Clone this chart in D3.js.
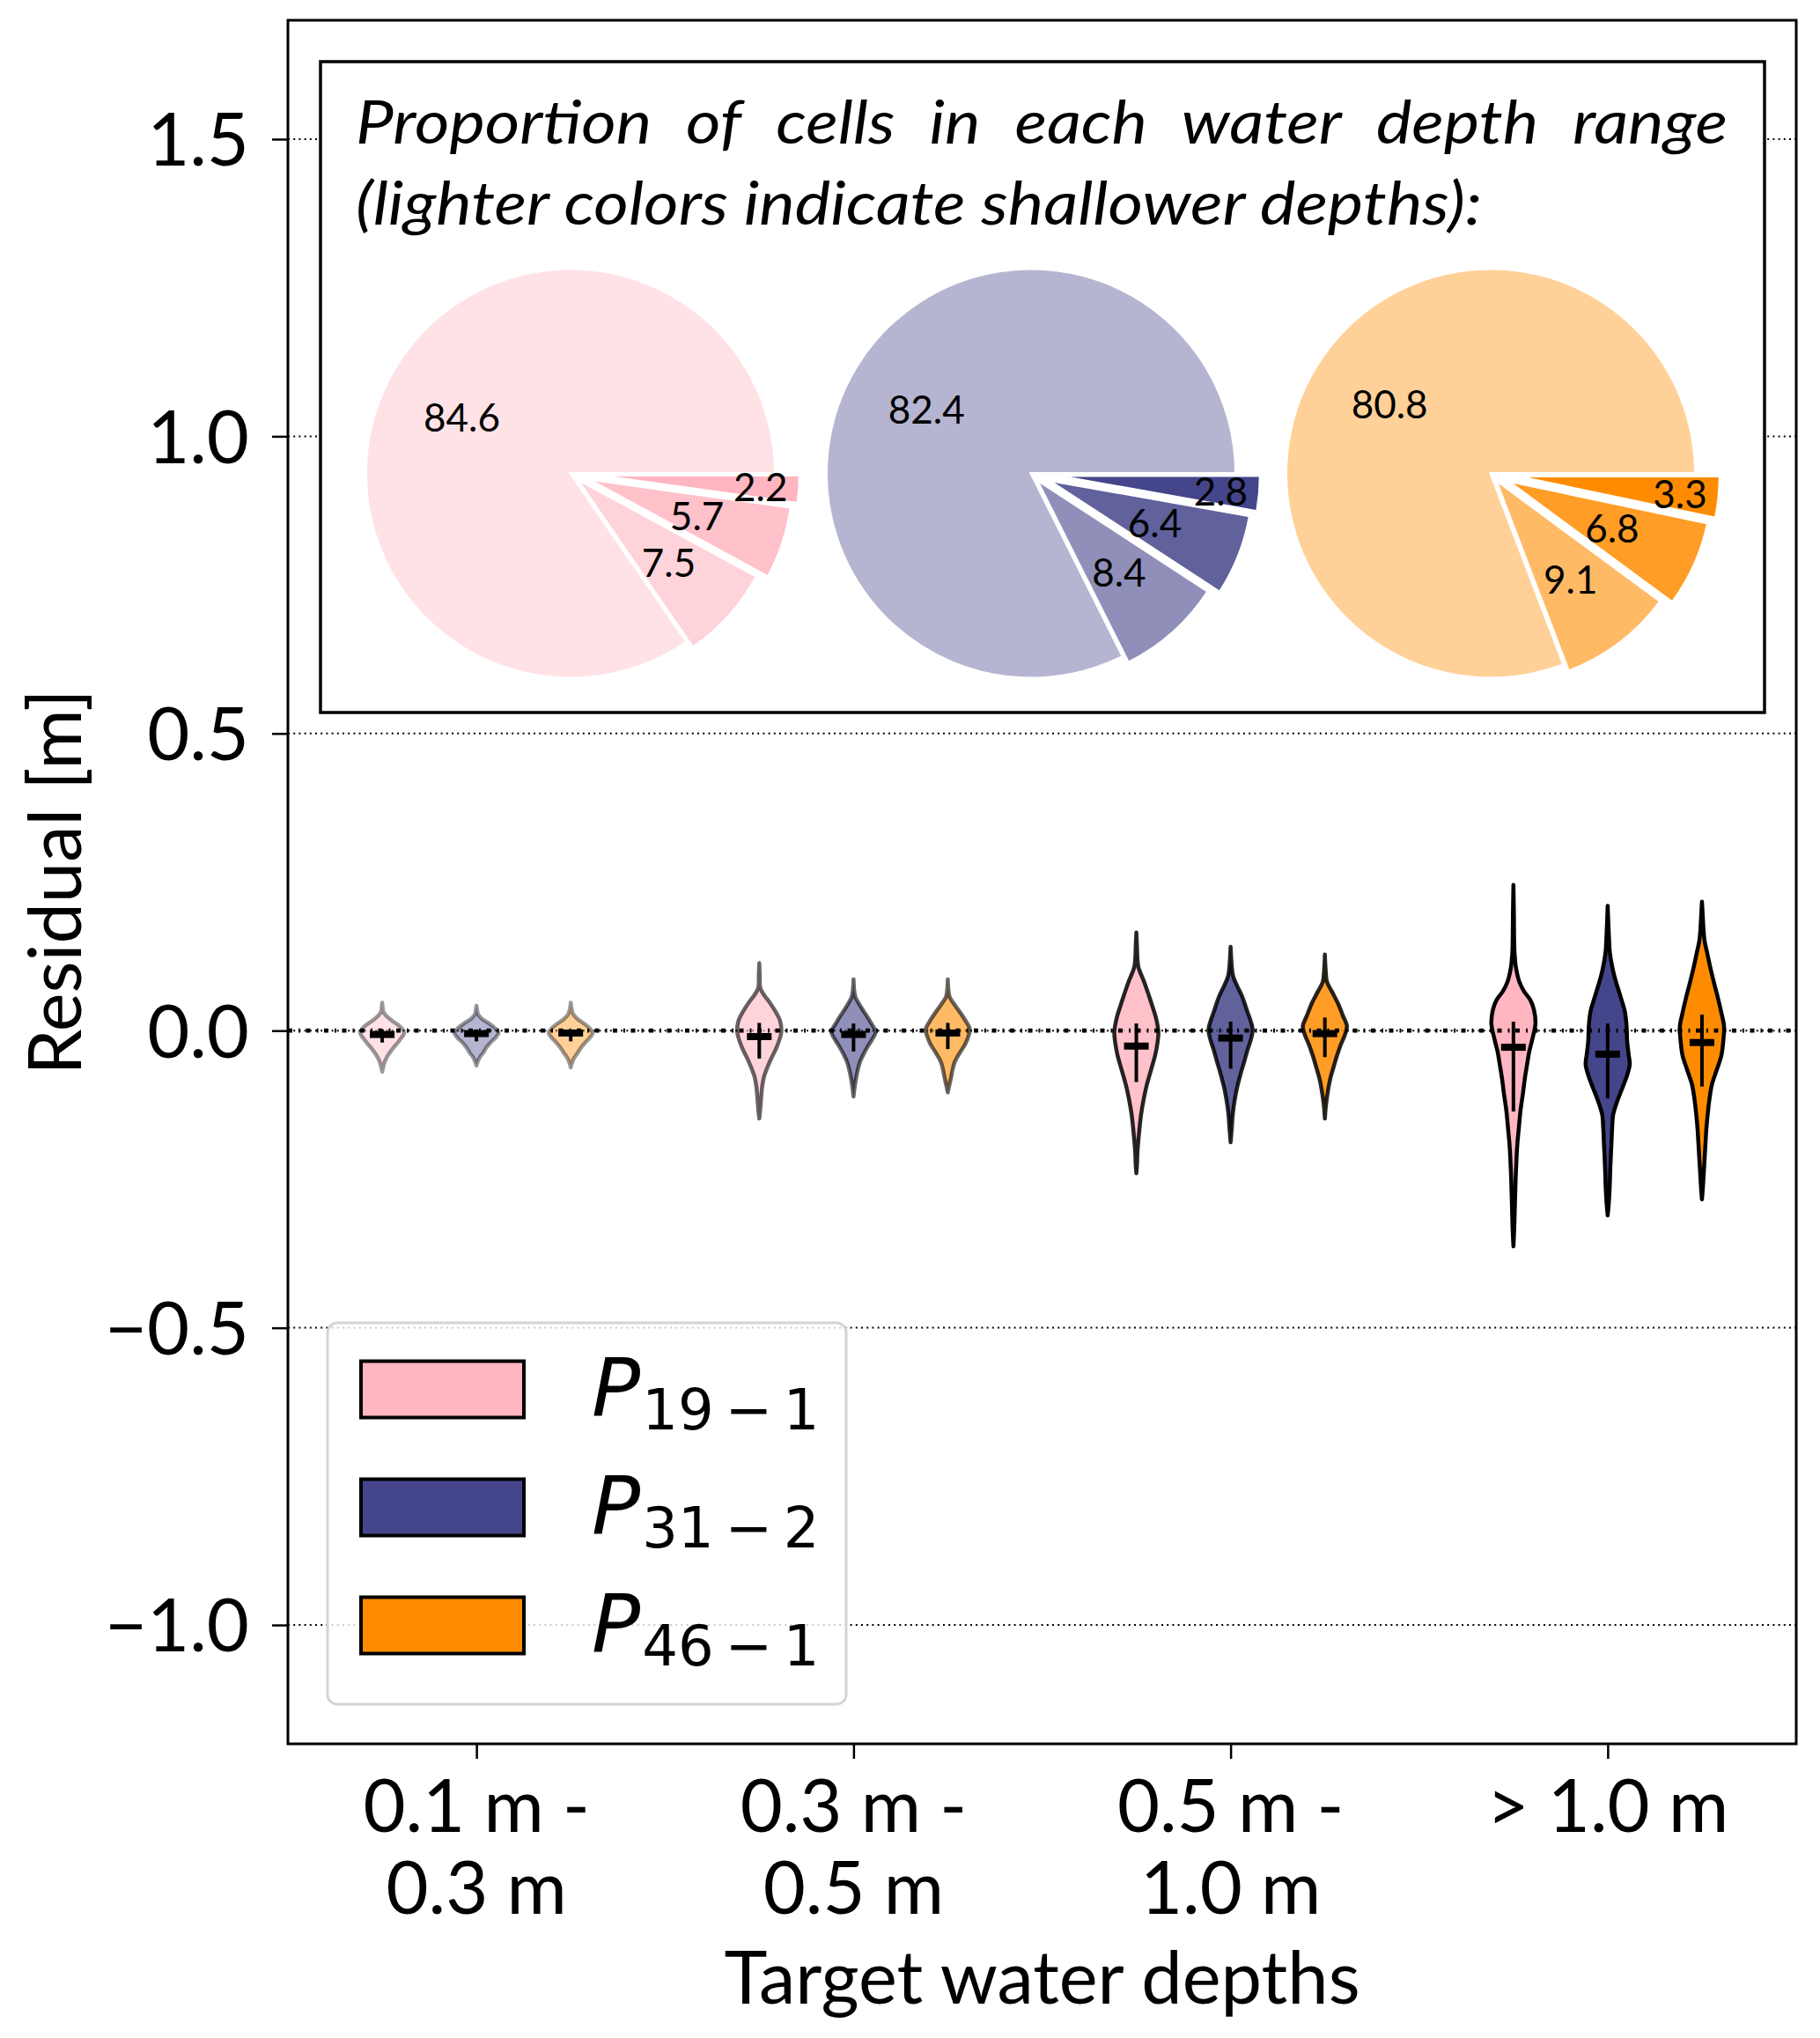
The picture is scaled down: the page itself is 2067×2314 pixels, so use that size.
<!DOCTYPE html>
<html>
<head>
<meta charset="utf-8">
<script src="https://cdn.jsdelivr.net/npm/d3@7"></script>
<style>
  html, body { margin: 0; padding: 0; background: #fff; }
  svg { display: block; }
</style>
</head>
<body>
<svg id="chart" width="2067" height="2314"></svg>
<script>
// ---------------- DATA ----------------
const categories = ["0.1 m -\n0.3 m", "0.3 m -\n0.5 m", "0.5 m -\n1.0 m", "> 1.0 m"];
const seriesNames = [["P", "19\u2009\u2212\u20091"], ["P", "31\u2009\u2212\u20092"], ["P", "46\u2009\u2212\u20091"]];
const yTickValues = [-1.0, -0.5, 0.0, 0.5, 1.0, 1.5];

// Pie values (percent): deepest range first, shallowest last
const pinkPie   = [2.2, 5.7, 7.5, 84.6];
const navyPie   = [2.8, 6.4, 8.4, 82.4];
const orangePie = [3.3, 6.8, 9.1, 80.8];

// Violin profiles: [residual value (m), relative density width]
const pinkProfiles = [
  [[0.047,0],[0.04,0.02],[0.032,0.05],[0.025,0.18],[0.017,0.44],[0.008,0.78],[-0.003,1],[-0.017,0.77],[-0.032,0.44],[-0.042,0.25],[-0.052,0.12],[-0.062,0.04],[-0.069,0]],
  [[0.1135,0],[0.095,0.02],[0.0716,0.05],[0.06,0.22],[0.047,0.48],[0.032,0.74],[0.017,0.94],[-0.0025,1],[-0.027,0.8],[-0.052,0.48],[-0.077,0.22],[-0.095,0.13],[-0.111,0.09],[-0.13,0.05],[-0.148,0]],
  [[0.165,0],[0.14,0.03],[0.12,0.05],[0.106,0.1],[0.0815,0.36],[0.06,0.56],[0.042,0.72],[0.02,0.9],[-0.0025,1],[-0.02,0.96],[-0.042,0.85],[-0.072,0.62],[-0.095,0.45],[-0.116,0.33],[-0.14,0.22],[-0.166,0.14],[-0.205,0.05],[-0.225,0.03],[-0.24,0]],
  [[0.245,0],[0.2,0.02],[0.16,0.03],[0.131,0.05],[0.105,0.12],[0.081,0.28],[0.065,0.5],[0.052,0.76],[0.035,0.93],[0.012,1],[-0.017,0.84],[-0.035,0.72],[-0.057,0.62],[-0.08,0.52],[-0.106,0.43],[-0.135,0.32],[-0.166,0.24],[-0.19,0.18],[-0.215,0.14],[-0.25,0.1],[-0.289,0.07],[-0.33,0.04],[-0.363,0]]
];
const navyProfiles = [
  [[0.042,0],[0.035,0.03],[0.027,0.08],[0.02,0.25],[0.012,0.57],[0.004,0.85],[-0.004,1],[-0.012,0.86],[-0.02,0.64],[-0.028,0.46],[-0.037,0.31],[-0.045,0.15],[-0.052,0.06],[-0.059,0]],
  [[0.0864,0],[0.072,0.02],[0.057,0.08],[0.045,0.25],[0.032,0.47],[0.015,0.76],[-0.0025,1],[-0.015,0.84],[-0.027,0.64],[-0.04,0.45],[-0.052,0.3],[-0.065,0.2],[-0.077,0.13],[-0.095,0.05],[-0.111,0]],
  [[0.141,0],[0.12,0.03],[0.105,0.06],[0.091,0.12],[0.075,0.3],[0.057,0.53],[0.032,0.76],[0.015,0.92],[0.002,1],[-0.015,0.92],[-0.032,0.77],[-0.052,0.62],[-0.072,0.46],[-0.095,0.3],[-0.116,0.19],[-0.14,0.1],[-0.165,0.05],[-0.188,0]],
  [[0.21,0],[0.18,0.03],[0.155,0.06],[0.131,0.1],[0.105,0.22],[0.0815,0.38],[0.055,0.6],[0.032,0.78],[0.005,0.86],[-0.017,0.88],[-0.04,0.95],[-0.057,1],[-0.075,0.88],[-0.096,0.67],[-0.12,0.42],[-0.141,0.25],[-0.165,0.2],[-0.19,0.17],[-0.23,0.12],[-0.264,0.09],[-0.29,0.05],[-0.311,0]]
];
const orangeProfiles = [
  [[0.047,0],[0.038,0.03],[0.027,0.12],[0.02,0.3],[0.012,0.6],[0.004,0.86],[-0.004,1],[-0.012,0.86],[-0.02,0.66],[-0.028,0.48],[-0.037,0.32],[-0.047,0.14],[-0.055,0.05],[-0.062,0]],
  [[0.0864,0],[0.072,0.02],[0.057,0.08],[0.045,0.28],[0.032,0.53],[0.017,0.8],[0.0024,1],[-0.01,0.93],[-0.022,0.8],[-0.037,0.55],[-0.052,0.32],[-0.065,0.22],[-0.077,0.16],[-0.09,0.08],[-0.104,0]],
  [[0.128,0],[0.105,0.03],[0.0815,0.1],[0.065,0.33],[0.047,0.58],[0.025,0.82],[0.0074,1],[-0.008,0.9],[-0.022,0.74],[-0.042,0.55],[-0.062,0.39],[-0.08,0.25],[-0.101,0.14],[-0.125,0.05],[-0.148,0]],
  [[0.217,0],[0.19,0.04],[0.17,0.07],[0.151,0.12],[0.13,0.24],[0.106,0.38],[0.08,0.55],[0.057,0.71],[0.03,0.88],[0.0074,1],[-0.02,0.96],[-0.042,0.88],[-0.065,0.68],[-0.091,0.45],[-0.115,0.34],[-0.141,0.26],[-0.165,0.2],[-0.19,0.16],[-0.215,0.12],[-0.24,0.08],[-0.265,0.04],[-0.284,0]]
];

// Means (thick bar) and vertical spread line (top, bottom)
const pinkMeans   = [-0.0065, -0.010, -0.026, -0.028];
const navyMeans   = [-0.005, -0.0065, -0.0125, -0.0396];
const orangeMeans = [-0.004, -0.004, -0.005, -0.020];
const pinkSpreadTop      = [0.002, 0.013, 0.012, 0.015];
const pinkSpreadBottom   = [-0.020, -0.047, -0.0865, -0.136];
const navySpreadTop      = [0.002, 0.012, 0.015, 0.012];
const navySpreadBottom   = [-0.018, -0.035, -0.064, -0.114];
const orangeSpreadTop    = [0.002, 0.013, 0.022, 0.027];
const orangeSpreadBottom = [-0.018, -0.031, -0.0445, -0.094];

// ---------------- STYLE / LAYOUT ----------------
const baseColors = ["#FFB6C1", "#45458B", "#FF8C00"];
const groupAlpha = [0.4, 0.6, 0.85, 1.0];
const wedgeAlpha = [1.0, 0.85, 0.6, 0.4];
const wedgeExplode = [0.12, 0.09, 0.04, 0];
const wedgeLabelDist = [0.93, 0.65, 0.645, 0.6];
const seriesOffsets = [-0.25, 0, 0.25];
const violinWidth = 0.117;
const FONT = "Lato, 'Open Sans', sans-serif";

const series = [
  {profiles: pinkProfiles, means: pinkMeans, top: pinkSpreadTop, bottom: pinkSpreadBottom, pie: pinkPie},
  {profiles: navyProfiles, means: navyMeans, top: navySpreadTop, bottom: navySpreadBottom, pie: navyPie},
  {profiles: orangeProfiles, means: orangeMeans, top: orangeSpreadTop, bottom: orangeSpreadBottom, pie: orangePie}
];

const svg = d3.select("#chart");
const L = 327, R = 2040, T = 23, B = 1980;
const x = d3.scaleLinear().domain([-0.5, 3.5]).range([L, R]);
const y = d3.scaleLinear().domain([-1.2, 1.7]).range([B, T]);

svg.append("rect").attr("width", 2067).attr("height", 2314).attr("fill", "#fff");

// gridlines
svg.append("g").selectAll("line").data(yTickValues).join("line")
  .attr("x1", L).attr("x2", R)
  .attr("y1", d => y(d)).attr("y2", d => y(d))
  .attr("stroke", "#000").attr("stroke-width", 2)
  .attr("stroke-dasharray", "2,4.2");

// violins
const halfW = (x(violinWidth) - x(0)) / 2;
const gV = svg.append("g");
series.forEach((s, si) => {
  s.profiles.forEach((prof, ci) => {
    const cx = x(ci + seriesOffsets[si]);
    const area = d3.area()
      .y(d => y(d[0]))
      .x0(d => cx - d[1] * halfW)
      .x1(d => cx + d[1] * halfW)
      .curve(d3.curveCatmullRom.alpha(0.5));
    gV.append("path").attr("d", area(prof))
      .attr("fill", baseColors[si]).attr("fill-opacity", groupAlpha[ci])
      .attr("stroke", "#000").attr("stroke-opacity", groupAlpha[ci])
      .attr("stroke-width", 4.5).attr("stroke-linejoin", "round");
  });
});

// zero line
svg.append("line").attr("x1", L).attr("x2", R).attr("y1", y(0)).attr("y2", y(0))
  .attr("stroke", "#000").attr("stroke-width", 4.8)
  .attr("stroke-dasharray", "5,7,2,6.5");

// markers
const gM = svg.append("g");
series.forEach((s, si) => {
  s.means.forEach((m, ci) => {
    const cx = x(ci + seriesOffsets[si]);
    gM.append("line").attr("x1", cx).attr("x2", cx)
      .attr("y1", y(s.top[ci])).attr("y2", y(s.bottom[ci]))
      .attr("stroke", "#000").attr("stroke-width", 4);
    gM.append("rect").attr("x", cx - 14).attr("y", y(m) - 4)
      .attr("width", 28).attr("height", 8).attr("fill", "#000");
  });
});

// inset box
svg.append("rect").attr("x", 364).attr("y", 70).attr("width", 1640).attr("height", 739)
  .attr("fill", "#fff").attr("stroke", "#000").attr("stroke-width", 3.5);

// inset title
const titleG = svg.append("g").attr("font-family", FONT).attr("font-style", "italic")
  .attr("font-size", 68).attr("fill", "#000");
const line2 = titleG.append("text").attr("x", 404).attr("y", 255)
  .text("(lighter colors indicate shallower depths):");
const nat2 = line2.node().getComputedTextLength();
const squeeze = 1279 / nat2;
line2.attr("textLength", 1279).attr("lengthAdjust", "spacingAndGlyphs");
const words = "Proportion of cells in each water depth range".split(" ");
const wNodes = words.map(w => titleG.append("text").attr("y", 163).text(w));
const wLens = wNodes.map(n => n.node().getComputedTextLength() * squeeze);
const x0t = 404, x1t = 1962;
const gap = (x1t - x0t - d3.sum(wLens)) / (words.length - 1);
let cxw = x0t;
wNodes.forEach((n, i) => {
  n.attr("x", cxw).attr("textLength", wLens[i]).attr("lengthAdjust", "spacingAndGlyphs");
  cxw += wLens[i] + gap;
});

// pies
const pieCx = [648, 1171, 1693], pieCy = 537.5, pieR = 232.5;
const pieGen = d3.pie().sort(null).value(d => d).startAngle(Math.PI / 2).endAngle(Math.PI / 2 + 2 * Math.PI);
const arcGen = d3.arc().innerRadius(0).outerRadius(pieR);
series.forEach((s, si) => {
  const g = svg.append("g").attr("transform", `translate(${pieCx[si]},${pieCy})`);
  const arcs = pieGen(s.pie);
  arcs.forEach((a, i) => {
    const mid = (a.startAngle + a.endAngle) / 2;
    const ux = Math.sin(mid), uy = -Math.cos(mid);
    const off = wedgeExplode[i] * pieR;
    g.append("path").attr("d", arcGen(a))
      .attr("transform", `translate(${ux * off},${uy * off})`)
      .attr("fill", d3.interpolateRgb("#ffffff", baseColors[si])(wedgeAlpha[i]))
      .attr("stroke", "#fff").attr("stroke-width", 3).attr("stroke-linejoin", "miter");
  });
  arcs.forEach((a, i) => {
    const mid = (a.startAngle + a.endAngle) / 2;
    const ux = Math.sin(mid), uy = -Math.cos(mid);
    const dist = wedgeLabelDist[i] * pieR;
    g.append("text").attr("x", ux * dist).attr("y", uy * dist)
      .attr("text-anchor", "middle").attr("dominant-baseline", "central")
      .attr("font-family", FONT).attr("font-size", 44).attr("fill", "#000")
      .text(d3.format(".1f")(a.data));
  });
});

// legend
const lg = svg.append("g");
lg.append("rect").attr("x", 372).attr("y", 1502).attr("width", 589).attr("height", 433)
  .attr("rx", 11).attr("fill", "#fff").attr("fill-opacity", 0.8)
  .attr("stroke", "#d4d4d4").attr("stroke-width", 3);
seriesNames.forEach((nm, i) => {
  const cy = 1577.5 + i * 134;
  lg.append("rect").attr("x", 410).attr("y", cy - 32).attr("width", 185).attr("height", 64)
    .attr("fill", baseColors[i]).attr("stroke", "#000").attr("stroke-width", 4);
  const t = lg.append("text").attr("x", 672).attr("y", cy + 30.5)
    .attr("font-family", "'DejaVu Sans', sans-serif").attr("font-size", 91.5).attr("fill", "#000");
  t.append("tspan").attr("font-style", "italic").text(nm[0]);
  t.append("tspan").attr("font-size", 64).attr("dy", 15).attr("dx", 2).text(nm[1]);
});

// frame
svg.append("rect").attr("x", L).attr("y", T).attr("width", R - L).attr("height", B - T)
  .attr("fill", "none").attr("stroke", "#000").attr("stroke-width", 3);

// y axis
const yAxis = svg.append("g").attr("transform", `translate(${L},0)`)
  .call(d3.axisLeft(y).tickValues(yTickValues).tickFormat(d3.format(".1f")).tickSize(18).tickPadding(26));
yAxis.select(".domain").remove();
yAxis.selectAll("line").attr("stroke-width", 2.5);
yAxis.selectAll("text").attr("font-family", FONT).attr("font-size", 83).attr("fill", "#000").attr("dy", "0.36em");

// x axis
const xAxis = svg.append("g").attr("transform", `translate(0,${B})`)
  .call(d3.axisBottom(x).tickValues(d3.range(categories.length)).tickFormat("").tickSize(17));
xAxis.select(".domain").remove();
xAxis.selectAll("line").attr("stroke-width", 2.5);
categories.forEach((c, i) => {
  const t = svg.append("text").attr("text-anchor", "middle")
    .attr("font-family", FONT).attr("font-size", 83).attr("fill", "#000");
  c.split("\n").forEach((ln, j) => {
    t.append("tspan").attr("x", x(i)).attr("y", 2080 + j * 93).text(ln);
  });
});

// axis titles
svg.append("text").attr("x", (L + R) / 2).attr("y", 2275).attr("text-anchor", "middle")
  .attr("font-family", FONT).attr("font-size", 83).attr("fill", "#000")
  .text("Target water depths");
svg.append("text").attr("transform", `translate(92,${(T + B) / 2}) rotate(-90)`)
  .attr("text-anchor", "middle")
  .attr("font-family", FONT).attr("font-size", 83).attr("fill", "#000")
  .text("Residual [m]");
</script>
</body>
</html>
